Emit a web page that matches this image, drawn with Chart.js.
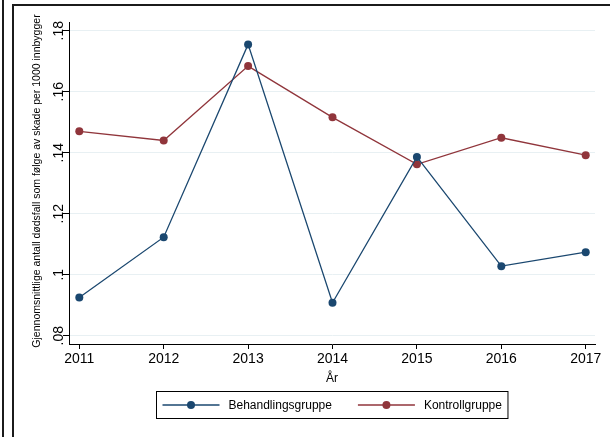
<!DOCTYPE html>
<html>
<head>
<meta charset="utf-8">
<title>Dødsfall som følge av skade</title>
<script src="https://cdn.jsdelivr.net/npm/chart.js@4.4.0/dist/chart.umd.min.js"></script>
<style>
html, body { margin: 0; padding: 0; background: #fff; }
#wrap { width: 610px; height: 437px; }
</style>
</head>
<body>
<div id="wrap"><canvas id="deathsChart" width="610" height="437"></canvas></div>
<script>
// values per year
const years = [2011, 2012, 2013, 2014, 2015, 2016, 2017];
const treatment = [0.0925, 0.1123, 0.1755, 0.0908, 0.1386, 0.1028, 0.1074];
const control = [0.1470, 0.1440, 0.1684, 0.1516, 0.1362, 0.1449, 0.1392];

const yTicks = [0.08, 0.10, 0.12, 0.14, 0.16, 0.18];
const yTickLabels = ['.08', '.1', '.12', '.14', '.16', '.18'];
const seriesNames = ['Behandlingsgruppe', 'Kontrollgruppe'];
const xTitle = 'År';
const yTitle = 'Gjennomsnittlige antall dødsfall som følge av skade per 1000 innbygger';

const FONT = "'Liberation Sans', Arial, Helvetica, sans-serif";

function toPoints(values) {
    return years.map((yr, i) => ({ x: yr, y: values[i] }));
}

// frame, rotated y labels, axis titles and the boxed legend
const stataLook = {
    id: 'stataLook',
    beforeDraw(chart) {
        const ctx = chart.ctx;
        ctx.save();
        ctx.fillStyle = '#fff';
        ctx.fillRect(0, 0, chart.width, chart.height);
        ctx.strokeStyle = '#1b1b1b';
        ctx.lineWidth = 2;
        ctx.beginPath();
        ctx.moveTo(3, 0);
        ctx.lineTo(3, chart.height);
        ctx.moveTo(13, chart.height);
        ctx.lineTo(13, 5);
        ctx.lineTo(chart.width, 5);
        ctx.stroke();
        ctx.restore();
    },
    afterDraw(chart) {
        const ctx = chart.ctx;
        const yScale = chart.scales.y;
        const area = chart.chartArea;
        const cx = (area.left + area.right) / 2;

        ctx.save();
        ctx.fillStyle = '#000';
        ctx.textAlign = 'center';
        ctx.textBaseline = 'alphabetic';

        ctx.font = '14px ' + FONT;
        yTicks.forEach((v, i) => {
            ctx.save();
            ctx.translate(63, yScale.getPixelForValue(v));
            ctx.rotate(-Math.PI / 2);
            ctx.fillText(yTickLabels[i], 0, 0);
            ctx.restore();
        });

        ctx.font = '10.5px ' + FONT;
        ctx.save();
        ctx.translate(40, (area.top + area.bottom) / 2 - 2);
        ctx.rotate(-Math.PI / 2);
        ctx.fillText(yTitle, 0, 0);
        ctx.restore();

        ctx.font = '12px ' + FONT;
        ctx.fillText(xTitle, cx, 382);

        // legend
        const sets = chart.data.datasets;
        const sym = 57, gapText = 9, gapItem = 26, padX = 6;
        const widths = sets.map(d => ctx.measureText(d.label).width);
        const boxW = padX * 2 + sets.length * (sym + gapText) +
            widths.reduce((a, b) => a + b, 0) + gapItem * (sets.length - 1);
        const boxX = Math.round(cx - boxW / 2) + 0.5;
        const boxY = 391.5, boxH = 27;
        ctx.strokeStyle = '#000';
        ctx.lineWidth = 1;
        ctx.strokeRect(boxX, boxY, boxW, boxH);

        const midY = boxY + boxH / 2;
        let x = boxX + padX;
        ctx.textAlign = 'left';
        ctx.textBaseline = 'middle';
        sets.forEach((d, i) => {
            ctx.strokeStyle = d.borderColor;
            ctx.lineWidth = 1.3;
            ctx.beginPath();
            ctx.moveTo(x, midY);
            ctx.lineTo(x + sym, midY);
            ctx.stroke();
            ctx.fillStyle = d.backgroundColor;
            ctx.beginPath();
            ctx.arc(x + sym / 2, midY, 4, 0, Math.PI * 2);
            ctx.fill();
            ctx.fillStyle = '#000';
            ctx.fillText(d.label, x + sym + gapText, midY + 0.5);
            x += sym + gapText + widths[i] + gapItem;
        });
        ctx.restore();
    }
};

const ctx = document.getElementById('deathsChart');
new Chart(ctx, {
    type: 'line',
    data: {
        datasets: [{
            label: seriesNames[0],
            data: toPoints(treatment),
            borderColor: '#1a476f',
            backgroundColor: '#1a476f',
            borderWidth: 1.3,
            pointRadius: 4,
            pointBorderWidth: 0,
            tension: 0
        }, {
            label: seriesNames[1],
            data: toPoints(control),
            borderColor: '#90353b',
            backgroundColor: '#90353b',
            borderWidth: 1.3,
            pointRadius: 4,
            pointBorderWidth: 0,
            tension: 0
        }]
    },
    options: {
        responsive: false,
        animation: false,
        layout: { padding: { top: 22, right: 15, left: 0, bottom: 0 } },
        plugins: {
            legend: { display: false },
            tooltip: { enabled: false }
        },
        scales: {
            x: {
                type: 'linear',
                min: 2010.878,
                max: 2017.11,
                afterBuildTicks: s => { s.ticks = years.map(v => ({ value: v })); },
                afterFit: s => { s.height = 93; },
                border: { color: '#000', width: 1 },
                grid: { drawOnChartArea: false, tickLength: 5, tickColor: '#000' },
                ticks: {
                    color: '#000',
                    font: { family: FONT, size: 14 },
                    padding: 2,
                    maxRotation: 0,
                    autoSkip: false,
                    callback: v => String(v)
                }
            },
            y: {
                type: 'linear',
                min: 0.07728,
                max: 0.18285,
                afterBuildTicks: s => { s.ticks = yTicks.map(v => ({ value: v })); },
                afterFit: s => { s.width = 69; },
                border: { color: '#000', width: 1 },
                grid: { color: '#e8f0f3', tickColor: '#000', tickLength: 6 },
                ticks: { display: false }
            }
        }
    },
    plugins: [stataLook]
});
</script>
</body>
</html>
